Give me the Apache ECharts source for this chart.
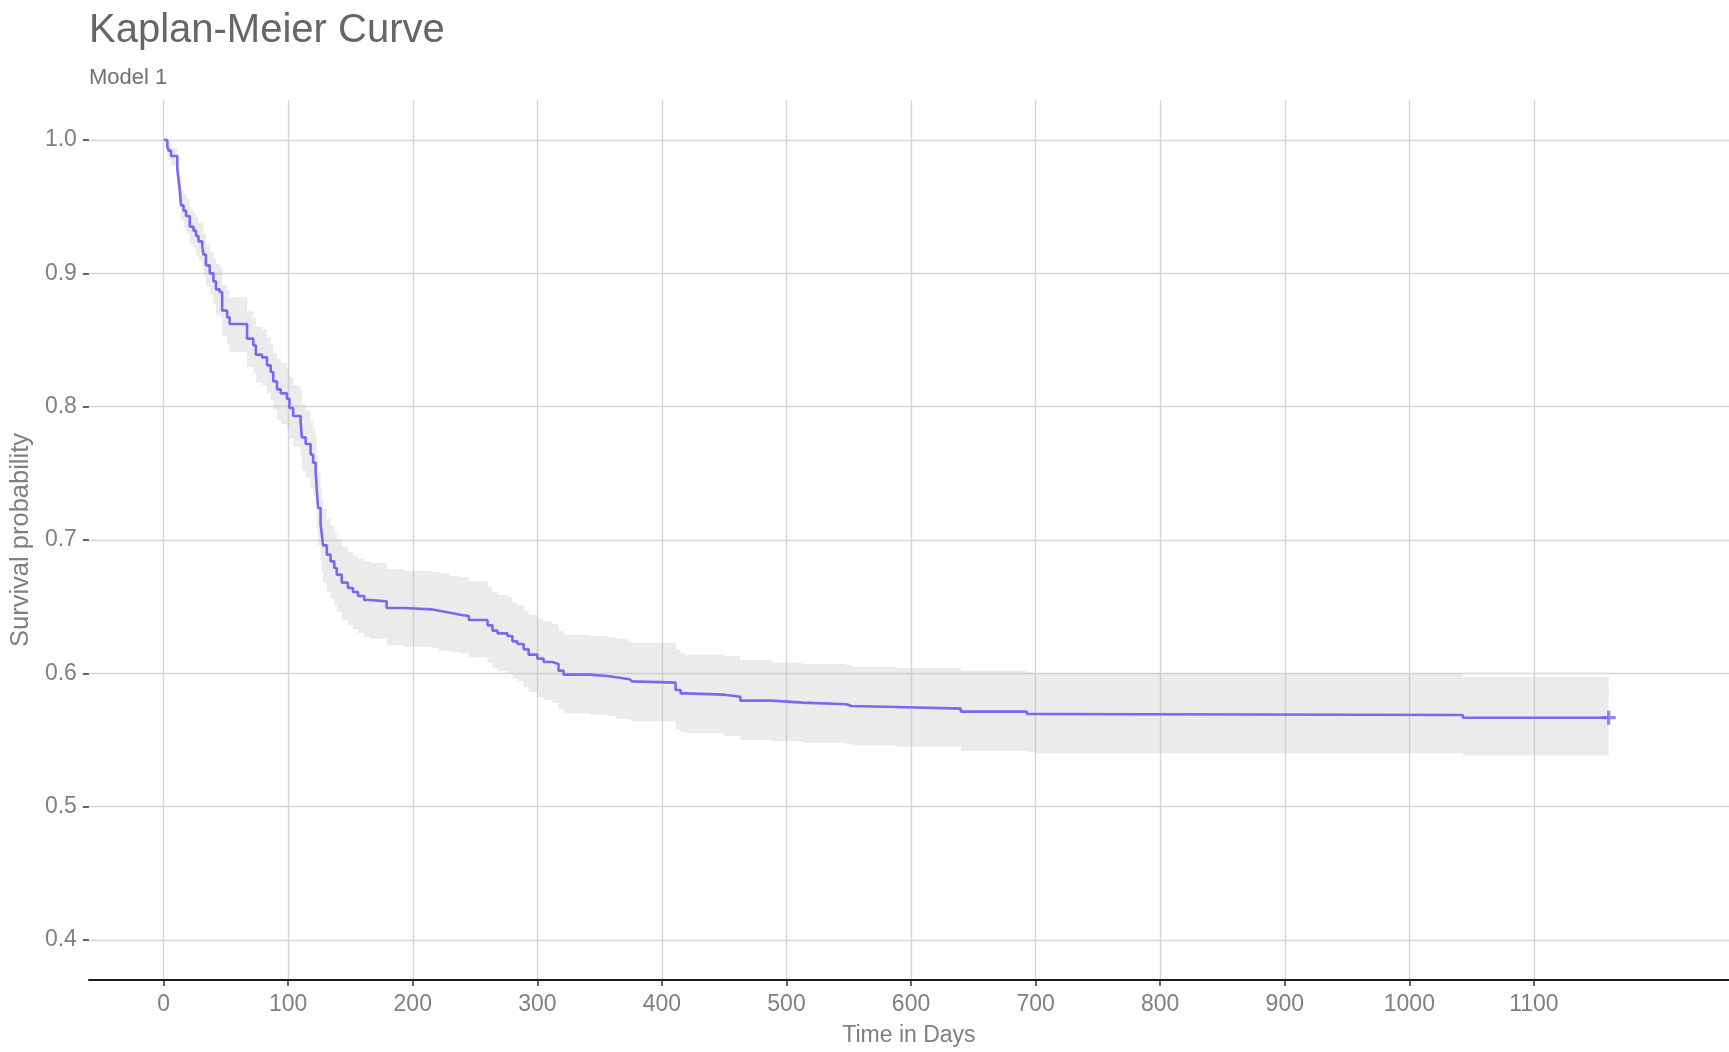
<!DOCTYPE html>
<html>
<head>
<meta charset="utf-8">
<script src="https://cdn.jsdelivr.net/npm/echarts@6/dist/echarts.min.js"></script>
<style>html,body{margin:0;padding:0;background:#fff;}#c{width:1729px;height:1052px;}</style>
</head>
<body>
<div id="c"></div>
<script>
// Kaplan-Meier step points (time in days)
var times = [0,3,4,6,11,12,13,14,16,18,21,24,26,28,31,32,34,37,40,42,45,47,51,53,67,72,74,79,83,86,88,91,94,99,101,104,110,111,114,118,120,122,123,124,126,127,128,131,134,137,139,143,148,152,156,161,166,179,193,215,221,230,238,245,260,264,268,276,280,284,289,293,300,305,312,317,321,342,356,363,374,376,411,415,419,450,463,488,513,548,552,588,640,693,701,1043,1160];
var survival = [1.000,0.995,0.992,0.988,0.978,0.970,0.962,0.951,0.947,0.943,0.935,0.932,0.928,0.924,0.921,0.914,0.906,0.900,0.894,0.888,0.886,0.872,0.867,0.862,0.851,0.846,0.839,0.837,0.831,0.826,0.819,0.813,0.810,0.806,0.799,0.793,0.788,0.777,0.772,0.764,0.758,0.752,0.737,0.724,0.712,0.704,0.696,0.689,0.684,0.679,0.674,0.668,0.664,0.661,0.658,0.655,0.654,0.649,0.648,0.647,0.6455,0.644,0.643,0.640,0.636,0.632,0.630,0.628,0.624,0.622,0.618,0.614,0.611,0.6085,0.607,0.602,0.599,0.598,0.597,0.5955,0.594,0.593,0.5875,0.585,0.584,0.5825,0.5795,0.578,0.5768,0.5755,0.5748,0.5735,0.5713,0.5695,0.5688,0.5667,0.5667];
var upperCI = [1.000,1.000,0.998,0.994,0.988,0.980,0.973,0.962,0.960,0.956,0.948,0.945,0.942,0.938,0.937,0.930,0.922,0.916,0.911,0.907,0.905,0.891,0.887,0.882,0.872,0.867,0.860,0.858,0.852,0.847,0.840,0.836,0.833,0.829,0.822,0.816,0.812,0.802,0.797,0.789,0.783,0.777,0.764,0.751,0.739,0.731,0.723,0.716,0.711,0.706,0.701,0.695,0.691,0.688,0.686,0.684,0.683,0.678,0.677,0.676,0.675,0.673,0.672,0.669,0.665,0.661,0.659,0.657,0.653,0.651,0.647,0.644,0.641,0.639,0.637,0.632,0.629,0.628,0.627,0.626,0.624,0.623,0.618,0.615,0.614,0.613,0.610,0.608,0.607,0.606,0.605,0.604,0.602,0.6005,0.600,0.5975,0.5975];
var lowerCI = [1.000,0.988,0.985,0.981,0.968,0.960,0.951,0.940,0.934,0.930,0.922,0.919,0.914,0.910,0.905,0.898,0.890,0.884,0.877,0.869,0.867,0.853,0.847,0.841,0.830,0.825,0.818,0.816,0.810,0.805,0.798,0.790,0.787,0.783,0.776,0.770,0.764,0.752,0.747,0.739,0.733,0.727,0.709,0.696,0.684,0.676,0.668,0.661,0.656,0.651,0.646,0.640,0.636,0.633,0.630,0.627,0.626,0.621,0.620,0.619,0.617,0.616,0.615,0.612,0.608,0.604,0.602,0.600,0.596,0.594,0.590,0.586,0.582,0.580,0.578,0.573,0.570,0.569,0.568,0.566,0.565,0.564,0.558,0.556,0.555,0.553,0.550,0.549,0.548,0.547,0.546,0.545,0.542,0.541,0.540,0.5383,0.5383];
var censorTimes = [1160];
var censorSurv = [0.5667];
var xTicks = [0,100,200,300,400,500,600,700,800,900,1000,1100];
var yTicks = [0.4,0.5,0.6,0.7,0.8,0.9,1.0];

var FONT = '"Liberation Sans", Arial, sans-serif';
var survData = times.map(function(t,i){return [t, survival[i]];});
var censorData = censorTimes.map(function(t,i){return [t, censorSurv[i]];});

// confidence band polygon built from the CI arrays through the axis scales
function renderBand(params, api){
  var pts = [];
  var n = times.length;
  for (var i = 0; i < n; i++){
    pts.push(api.coord([times[i], upperCI[i]]));
    if (i < n-1) pts.push(api.coord([times[i+1], upperCI[i]]));
  }
  for (var j = n-1; j >= 0; j--){
    if (j < n-1) pts.push(api.coord([times[j+1], lowerCI[j]]));
    pts.push(api.coord([times[j], lowerCI[j]]));
  }
  return {type:'polygon', shape:{points:pts}, style:{fill:'rgba(190,190,190,0.3)', stroke:null}, silent:true};
}

var chart = echarts.init(document.getElementById('c'), null, {renderer:'canvas'});
chart.setOption({
  animation:false,
  backgroundColor:'#ffffff',
  title:{
    text:'Kaplan-Meier Curve', subtext:'Model 1',
    left:84, top:6, itemGap:16,
    textStyle:{fontFamily:FONT, fontSize:40, fontWeight:'normal', color:'#666666'},
    subtextStyle:{fontFamily:FONT, fontSize:22, color:'#707070'}
  },
  grid:{left:88.5, right:0, top:100, bottom:72, containLabel:false},
  xAxis:{
    type:'value', min:-60, max:1256.6,
    name:'Time in Days', nameLocation:'middle', nameGap:44,
    nameTextStyle:{fontFamily:FONT, fontSize:23, color:'#7f7f7f'},
    axisLine:{show:true, onZero:false, lineStyle:{color:'#1a1a1a', width:1.8}},
    axisTick:{show:true, length:6, customValues:xTicks, lineStyle:{color:'#333', width:1.5}},
    axisLabel:{customValues:xTicks, fontFamily:FONT, fontSize:23, color:'#808080', margin:13,
      formatter:function(v){return String(v);}},
    splitLine:{show:true, lineStyle:{color:'#d6d6d6', width:1.4}}
  },
  yAxis:{
    type:'value', min:0.37, max:1.03,
    name:'Survival probability', nameLocation:'middle', nameGap:43,
    nameTextStyle:{fontFamily:FONT, fontSize:25.5, color:'#7f7f7f'},
    axisLine:{show:false, onZero:false},
    axisTick:{show:true, length:6, customValues:yTicks, lineStyle:{color:'#333', width:1.5}},
    axisLabel:{customValues:yTicks, fontFamily:FONT, fontSize:23, color:'#808080', margin:12,
      formatter:function(v){return v.toFixed(1);}},
    splitLine:{show:true, lineStyle:{color:'#d6d6d6', width:1.4}}
  },
  series:[
    {type:'custom', name:'band', data:[0], renderItem:renderBand, clip:true, silent:true, z:1},
    {type:'line', name:'survival', step:'end', data:survData, symbol:'none',
     lineStyle:{color:'#7B68EE', width:2.6}, z:3},
    {type:'scatter', name:'censor', data:censorData,
     symbol:'path://M4.6,0 H7.4 V4.6 H12 V7.4 H7.4 V12 H4.6 V7.4 H0 V4.6 H4.6 Z', symbolSize:14,
     itemStyle:{color:'#7B68EE'}, z:4}
  ]
});
</script>
</body>
</html>
